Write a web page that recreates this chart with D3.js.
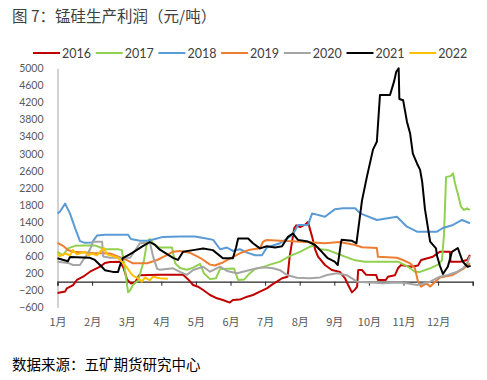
<!DOCTYPE html>
<html><head><meta charset="utf-8">
<script src="https://cdn.jsdelivr.net/npm/d3@7/dist/d3.min.js"></script>
<style>
body{margin:0;background:#fff;}
svg{display:block;}
</style></head>
<body><svg id="c" width="487" height="380"></svg>
<script>
// x = position in months from Jan 1 (0..12), y = profit (元/吨)
const monthLabels = ["1月","2月","3月","4月","5月","6月","7月","8月","9月","10月","11月","12月"];
const yTicks = [-600,-200,200,600,1000,1400,1800,2200,2600,3000,3400,3800,4200,4600,5000];
const years = ["2016","2017","2018","2019","2020","2021","2022"];
const colors = ["#C00000","#92D050","#5B9BD5","#ED7D31","#A5A5A5","#000000","#FFC000"];

const s2016 = [[0,-265],[0.22,-230],[0.27,-155],[0.45,-80],[0.56,40],[0.74,117],[0.94,234],[1.23,351],[1.37,440],[1.52,460],[1.81,470],[1.92,300],[2.01,50],[2.12,-40],[2.24,-20],[2.36,150],[2.96,160],[3.63,160],[3.77,60],[3.92,-77],[4.06,-117],[4.21,-194],[4.41,-312],[4.61,-389],[4.78,-429],[4.98,-490],[5.07,-429],[5.27,-420],[5.48,-351],[5.65,-312],[5.85,-234],[6.05,-155],[6.20,-70],[6.34,0],[6.49,80],[6.65,117],[6.71,586],[6.78,937],[6.84,1250],[6.90,1320],[7.01,1280],[7.15,1330],[7.24,1400],[7.36,1050],[7.45,743],[7.53,586],[7.73,391],[7.93,274],[8.16,230],[8.31,80],[8.40,-77],[8.51,-250],[8.60,-180],[8.66,-117],[8.69,274],[8.80,274],[8.92,160],[9.21,157],[9.26,40],[9.49,40],[9.55,117],[9.75,150],[9.84,314],[9.93,391],[10.22,351],[10.42,380],[10.51,508],[10.85,586],[11.05,703],[11.34,703],[11.36,469],[11.64,469],[11.84,508],[11.92,625]];
const s2017 = [[0,700],[0.16,620],[0.30,780],[0.51,840],[0.79,850],[1.08,850],[1.37,760],[1.75,760],[1.86,740],[1.92,450],[1.98,100],[2.04,-250],[2.10,-200],[2.18,-80],[2.33,30],[2.41,250],[2.50,500],[2.59,940],[2.67,1000],[2.76,900],[2.91,800],[3.31,800],[3.40,430],[3.54,320],[3.74,280],[3.92,330],[4.12,420],[4.23,200],[4.41,60],[4.58,80],[4.70,300],[5.10,310],[5.22,40],[5.39,50],[5.56,200],[5.71,300],[5.94,340],[6.14,400],[6.43,470],[6.71,600],[7.01,700],[7.30,820],[7.44,860],[7.59,760],[7.82,740],[8.11,650],[8.31,586],[8.60,500],[8.89,470],[9.84,470],[10.13,351],[10.33,234],[10.48,230],[10.77,314],[11.00,400],[11.11,500],[11.17,1100],[11.23,2450],[11.37,2480],[11.43,2540],[11.49,2300],[11.58,2030],[11.66,1760],[11.75,1680],[11.84,1720],[11.92,1680]];
const s2018 = [[0,1600],[0.07,1640],[0.22,1830],[0.36,1600],[0.51,1250],[0.65,950],[0.79,910],[1.00,920],[1.14,1080],[1.37,1100],[2.04,1100],[2.12,1000],[2.38,960],[2.62,960],[2.82,1000],[3.05,1050],[3.54,1060],[3.97,1060],[4.26,1020],[4.50,980],[4.70,760],[4.90,800],[5.07,720],[5.27,760],[5.48,680],[5.71,620],[5.91,620],[6.05,800],[6.43,900],[6.80,1100],[6.95,1330],[7.24,1330],[7.36,1600],[7.73,1520],[8.02,1700],[8.25,1720],[8.60,1720],[8.75,1600],[9.23,1446],[9.81,1523],[10.10,1289],[10.39,1171],[10.97,1171],[11.14,1258],[11.43,1329],[11.69,1446],[11.92,1370]];
const s2019 = [[0,910],[0.16,840],[0.30,743],[0.45,703],[1.03,670],[1.52,660],[1.81,570],[2.01,508],[2.18,431],[2.59,431],[2.88,508],[3.16,625],[3.34,703],[3.54,720],[3.82,680],[4.12,560],[4.41,400],[4.55,380],[4.78,450],[4.98,540],[5.27,665],[5.56,750],[5.85,782],[5.94,937],[6.05,977],[6.43,960],[7.07,937],[7.73,900],[8.16,930],[8.60,860],[8.80,806],[9.23,790],[9.26,586],[9.81,560],[9.98,508],[10.19,431],[10.33,314],[10.42,0],[10.51,-117],[10.66,-40],[10.77,-110],[10.92,0],[11.05,100],[11.40,150],[11.72,300],[11.92,430]];
const s2020 = [[0,470],[0.30,440],[0.45,391],[0.65,391],[0.74,508],[0.85,625],[0.94,760],[1.03,937],[1.29,937],[1.32,590],[1.52,560],[2.10,560],[2.30,800],[2.38,900],[2.67,920],[2.76,600],[2.88,300],[2.96,280],[3.34,314],[3.54,230],[3.74,160],[3.92,274],[4.21,351],[4.41,234],[4.70,351],[4.90,250],[5.19,197],[5.56,274],[5.77,314],[5.94,340],[6.23,314],[6.43,270],[6.63,157],[6.92,94],[7.30,80],[7.59,100],[7.79,157],[8.08,200],[8.37,150],[8.66,0],[9.41,-38],[9.81,-20],[10.10,-38],[10.39,-77],[10.77,0],[11.05,117],[11.29,157],[11.55,234],[11.72,314],[11.84,431],[11.92,600]];
const s2021 = [[0,550],[0.30,480],[0.36,580],[0.94,560],[1.08,510],[1.28,350],[1.37,270],[1.60,230],[1.75,230],[1.81,390],[1.89,550],[2.15,670],[2.44,820],[2.67,930],[2.82,860],[2.96,750],[3.34,560],[3.48,510],[3.63,700],[3.92,740],[4.21,780],[4.49,740],[4.78,550],[5.07,550],[5.16,800],[5.22,1010],[5.51,1010],[5.65,900],[5.85,780],[6.05,830],[6.29,800],[6.49,830],[6.66,1050],[6.80,1130],[6.95,980],[7.24,940],[7.44,860],[7.64,700],[7.81,550],[8.01,470],[8.10,390],[8.19,900],[8.21,980],[8.50,960],[8.64,900],[8.80,1900],[8.94,2450],[9.12,3100],[9.23,3280],[9.32,4375],[9.61,4375],[9.73,4700],[9.79,4920],[9.86,5000],[9.88,4280],[9.99,4250],[10.10,3750],[10.19,3480],[10.27,3000],[10.39,2770],[10.48,2620],[10.54,2340],[10.62,1700],[10.77,940],[10.94,780],[10.97,600],[11.05,380],[11.14,180],[11.28,350],[11.40,700],[11.57,790],[11.71,470],[11.85,350],[11.94,370]];
const s2022 = [[0,660],[0.07,600],[0.22,660],[0.36,620],[0.45,740],[0.56,640],[0.79,700],[0.88,620],[1.00,660],[1.14,620],[1.23,700],[1.34,790],[1.43,640],[1.60,600],[1.75,560],[1.86,469],[2.01,330],[2.10,220],[2.18,140],[2.33,80],[2.44,0],[2.53,100],[2.67,30],[2.76,117],[2.96,80],[3.19,70]];
const seriesData = [s2016,s2017,s2018,s2019,s2020,s2021,s2022];

const svg = d3.select("#c");
const numFont = "Lato, 'Noto Sans', sans-serif";
const cjkFont = "'Noto Sans CJK SC', sans-serif";

const x = d3.scaleLinear().domain([0,12]).range([57.5,472.7]);
const y = d3.scaleLinear().domain([-600,5000]).range([307.3,68.3]);

// title
svg.append("text").attr("x",12).attr("y",22).attr("font-family",cjkFont)
  .attr("font-size",15.5).attr("fill","#404040").text("图 7：锰硅生产利润（元/吨）");
// footer
svg.append("text").attr("x",12).attr("y",370).attr("font-family",cjkFont)
  .attr("font-size",14.5).attr("fill","#000").text("数据来源：五矿期货研究中心");

// y axis
const yAxis = d3.axisLeft(y).tickValues(yTicks).tickSize(0).tickPadding(14).tickFormat(d3.format("d"));
const gy = svg.append("g").attr("transform","translate(57.5,0)").call(yAxis);
gy.select(".domain").attr("stroke","#A6A6A6").attr("stroke-width",1);
gy.selectAll("text").attr("font-family",numFont).attr("font-size",10.5).attr("fill","#595959");

// x axis line at zero
const xAxis = d3.axisBottom(x).tickValues(d3.range(0,13)).tickSize(4).tickFormat("");
const gx = svg.append("g").attr("transform",`translate(0,${y(0)})`).call(xAxis);
gx.select(".domain").attr("stroke","#262626").attr("stroke-width",1.2);
gx.selectAll(".tick line").attr("stroke","#262626");

// month labels below plot
const xLab = d3.axisBottom(x).tickValues(d3.range(0,12)).tickSize(0).tickPadding(11)
  .tickFormat((d,i)=>monthLabels[i]);
const gl = svg.append("g").attr("transform","translate(0,307.3)").call(xLab);
gl.select(".domain").remove();
gl.selectAll("text").attr("font-family",cjkFont).attr("font-size",11).attr("fill","#595959");

// lines
const line = d3.line().x(d=>x(d[0])).y(d=>y(d[1]));
seriesData.forEach((s,i)=>{
  svg.append("path").datum(s).attr("d",line).attr("fill","none")
    .attr("stroke",colors[i]).attr("stroke-width",2).attr("stroke-linejoin","round");
});

// legend
const lg = svg.append("g");
years.forEach((yr,i)=>{
  const lx = 33 + i*62.7;
  lg.append("line").attr("x1",lx).attr("x2",lx+27).attr("y1",53).attr("y2",53)
    .attr("stroke",colors[i]).attr("stroke-width",2);
  lg.append("text").attr("x",lx+29).attr("y",57.5).attr("font-family",numFont)
    .attr("font-size",12.5).attr("fill","#404040").text(yr);
});
</script></body></html>
